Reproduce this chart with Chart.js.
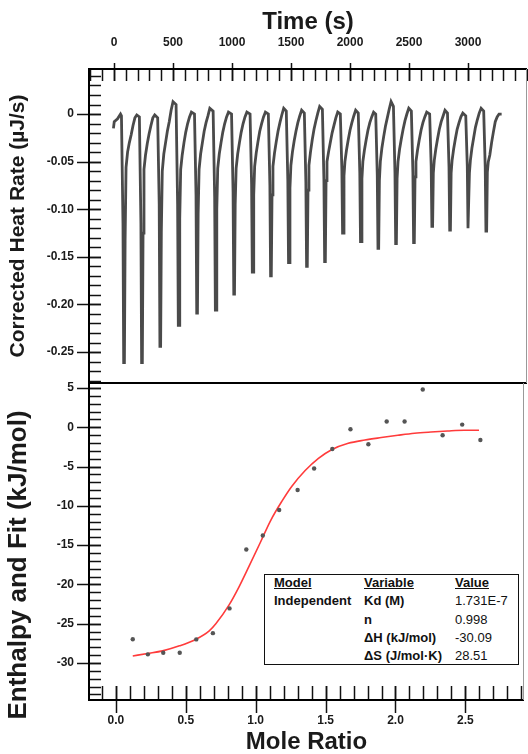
<!DOCTYPE html>
<html>
<head>
<meta charset="utf-8">
<title>ITC</title>
<script src="https://cdn.jsdelivr.net/npm/chart.js@4.4.1/dist/chart.umd.min.js"></script>
<style>
    html, body { margin: 0; padding: 0; background: #fff; }
    #wrap { position: relative; width: 528px; height: 754px; overflow: hidden; }
    #heatChart { position: absolute; left: 0; top: 0; }
    #isoChart { position: absolute; left: 0; top: 373px; }
    #fitTable {
        position: absolute; left: 264px; top: 574px; width: 255px; height: 91px;
        border: 1.5px solid #111; box-sizing: border-box; background: #fff;
        font-family: 'Liberation Sans', Arial, sans-serif; font-size: 13px; color: #111;
    }
    #fitTable span { position: absolute; white-space: nowrap; line-height: 14px; }
    #fitTable .b { font-weight: bold; }
    #fitTable .u { font-weight: bold; text-decoration: underline; }
</style>
</head>
<body>
<div id="wrap">
    <canvas id="heatChart" width="528" height="386"></canvas>
    <canvas id="isoChart" width="528" height="381"></canvas>
    <div id="fitTable">
        <span class="u" style="left:9px; top:1px;">Model</span>
        <span class="u" style="left:99px; top:1px;">Variable</span>
        <span class="u" style="left:190px; top:1px;">Value</span>
        <span class="b" style="left:9px; top:19px;">Independent</span>
        <span class="b" style="left:99px; top:19px;">Kd (M)</span>
        <span style="left:190px; top:19px;">1.731E-7</span>
        <span class="b" style="left:99px; top:38px;">n</span>
        <span style="left:190px; top:38px;">0.998</span>
        <span class="b" style="left:99px; top:56px;">ΔH (kJ/mol)</span>
        <span style="left:190px; top:56px;">-30.09</span>
        <span class="b" style="left:99px; top:74px;">ΔS (J/mol·K)</span>
        <span style="left:190px; top:74px;">28.51</span>
    </div>
</div>
<script>
// Thermogram (top panel), one line per injection
const traceTime = [
    -5, 2, 30, 55,
    63, 76, 82, 88, 94, 102, 115, 130, 145, 161, 177, 193,
    215, 228, 234, 240, 246, 254, 267, 282, 297, 313, 329, 345,
    370, 383, 389, 395, 401, 409, 422, 437, 452, 468, 484, 500,
    526, 539, 545, 551, 557, 565, 578, 593, 608, 624, 640, 656,
    682, 695, 701, 707, 713, 721, 734, 749, 764, 780, 796, 812,
    840, 853, 859, 865, 871, 879, 892, 907, 922, 938, 954, 970,
    996, 1009, 1015, 1021, 1027, 1035, 1048, 1063, 1078, 1094, 1110, 1126,
    1153, 1166, 1172, 1178, 1184, 1192, 1205, 1220, 1235, 1251, 1267, 1283,
    1308, 1321, 1327, 1333, 1339, 1347, 1360, 1375, 1390, 1406, 1422, 1438,
    1460, 1473, 1479, 1485, 1491, 1499, 1512, 1527, 1542, 1558, 1574, 1590,
    1613, 1626, 1632, 1638, 1644, 1652, 1665, 1680, 1695, 1711, 1727, 1743,
    1766, 1779, 1785, 1791, 1797, 1805, 1818, 1833, 1848, 1864, 1880, 1896,
    1918, 1931, 1937, 1943, 1949, 1957, 1970, 1985, 2000, 2016, 2032, 2048,
    2070, 2083, 2089, 2095, 2101, 2109, 2122, 2137, 2152, 2168, 2184, 2200,
    2218, 2231, 2237, 2243, 2249, 2257, 2270, 2285, 2300, 2316, 2332, 2348,
    2368, 2381, 2387, 2393, 2399, 2407, 2420, 2435, 2450, 2466, 2482, 2498,
    2520, 2533, 2539, 2545, 2551, 2559, 2572, 2587, 2602, 2618, 2634, 2650,
    2675, 2688, 2694, 2700, 2706, 2714, 2727, 2742, 2757, 2773, 2789, 2805,
    2826, 2839, 2845, 2851, 2857, 2865, 2878, 2893, 2908, 2924, 2940, 2956,
    2981, 2994, 3000, 3006, 3012, 3020, 3033, 3048, 3063, 3079, 3095, 3111,
    3133, 3146, 3152, 3158, 3164, 3172, 3185, 3200, 3215, 3231, 3247, 3263, 3285
];
const traceRate = [
    -0.015, -0.008, -0.005, 0.000,
    -0.002, -0.115, -0.261, -0.261, -0.133, -0.056, -0.040, -0.030, -0.022, -0.012, -0.004, -0.001,
    -0.003, -0.115, -0.261, -0.261, -0.125, -0.058, -0.043, -0.031, -0.021, -0.012, -0.004, -0.001,
    -0.004, -0.095, -0.244, -0.244, -0.125, -0.060, -0.042, -0.030, -0.018, -0.008, 0.004, 0.013,
    0.010, -0.095, -0.222, -0.222, -0.110, -0.058, -0.043, -0.030, -0.019, -0.010, -0.003, 0.002,
    0.000, -0.085, -0.209, -0.209, -0.105, -0.058, -0.042, -0.030, -0.018, -0.009, -0.002, 0.006,
    0.003, -0.088, -0.206, -0.206, -0.100, -0.057, -0.042, -0.030, -0.019, -0.010, -0.003, 0.002,
    0.000, -0.082, -0.189, -0.189, -0.095, -0.057, -0.042, -0.030, -0.019, -0.010, -0.003, 0.002,
    0.000, -0.074, -0.166, -0.166, -0.085, -0.055, -0.041, -0.029, -0.018, -0.010, -0.003, 0.002,
    0.000, -0.075, -0.170, -0.170, -0.085, -0.055, -0.041, -0.029, -0.018, -0.009, -0.001, 0.006,
    0.003, -0.070, -0.156, -0.156, -0.078, -0.054, -0.040, -0.028, -0.018, -0.009, -0.002, 0.004,
    0.001, -0.072, -0.160, -0.160, -0.080, -0.054, -0.040, -0.027, -0.016, -0.007, 0.001, 0.008,
    0.005, -0.070, -0.155, -0.155, -0.070, -0.050, -0.040, -0.030, -0.020, -0.012, -0.004, 0.002,
    0.000, -0.058, -0.125, -0.125, -0.065, -0.050, -0.038, -0.027, -0.017, -0.009, -0.002, 0.004,
    0.001, -0.062, -0.134, -0.134, -0.068, -0.050, -0.038, -0.027, -0.017, -0.009, -0.003, 0.002,
    0.000, -0.064, -0.141, -0.141, -0.070, -0.050, -0.036, -0.024, -0.013, -0.004, 0.005, 0.013,
    0.008, -0.062, -0.136, -0.136, -0.068, -0.050, -0.037, -0.026, -0.016, -0.007, 0.000, 0.006,
    0.003, -0.062, -0.135, -0.135, -0.066, -0.050, -0.038, -0.027, -0.017, -0.009, -0.003, 0.002,
    0.000, -0.055, -0.118, -0.118, -0.062, -0.049, -0.037, -0.026, -0.016, -0.008, -0.002, 0.004,
    0.001, -0.056, -0.122, -0.122, -0.062, -0.049, -0.037, -0.026, -0.016, -0.009, -0.003, 0.001,
    -0.002, -0.055, -0.120, -0.120, -0.062, -0.049, -0.036, -0.025, -0.014, -0.006, 0.001, 0.006,
    0.003, -0.056, -0.123, -0.123, -0.061, -0.050, -0.043, -0.030, -0.019, -0.008, -0.003, 0.000, 0.000
];

// Integrated heats (bottom panel)
const moleRatio = [0.121, 0.229, 0.339, 0.457, 0.575, 0.694, 0.813, 0.933, 1.051, 1.168, 1.300,
    1.418, 1.548, 1.678, 1.806, 1.937, 2.065, 2.195, 2.337, 2.477, 2.607];
const enthalpy = [-26.97, -28.9, -28.7, -28.7, -27.0, -26.2, -23.05, -15.56, -13.78, -10.52, -7.98,
    -5.25, -2.76, -0.25, -2.16, 0.73, 0.73, 4.80, -1.02, 0.34, -1.62];

// Independent model fit
const fitX = [0.121, 0.227, 0.334, 0.455, 0.573, 0.668, 0.715, 0.810, 0.881, 0.952, 1.035, 1.106, 1.188,
    1.259, 1.354, 1.449, 1.543, 1.662, 1.781, 1.898, 2.017, 2.136, 2.253, 2.372, 2.491, 2.597];
const fitY = [-29.10, -28.79, -28.46, -27.82, -26.97, -25.90, -25.00, -22.60, -20.30, -17.70, -14.60, -11.90, -9.40,
    -7.50, -5.50, -3.95, -2.85, -2.04, -1.62, -1.31, -1.02, -0.76, -0.60, -0.47, -0.38, -0.38];

// Tick labels
const timeTicks = [0, 500, 1000, 1500, 2000, 2500, 3000];
const heatRateTicks = [0, -0.05, -0.10, -0.15, -0.20, -0.25];
const ratioTicks = [0, 0.5, 1.0, 1.5, 2.0, 2.5];
const enthalpyTicks = [5, 0, -5, -10, -15, -20, -25, -30];

Chart.defaults.font.family = "'Liberation Sans', Arial, sans-serif";
Chart.defaults.color = '#1a1a1a';

const tickFont = { size: 12, weight: 'bold' };

// fixed box size, no extra label padding pushed into the layout
function fixBox(prop, size) {
    return s => {
        s[prop] = size;
        s.paddingTop = 0; s.paddingBottom = 0; s.paddingLeft = 0; s.paddingRight = 0;
    };
}

// Frame plus inward minor / outward major ticks, drawn from the chart scales
function frameTicks(axes) {
    return {
        id: 'frameTicks',
        afterDatasetsDraw(chart) {
            const ctx = chart.ctx;
            const a = chart.chartArea;
            ctx.save();
            ctx.strokeStyle = '#111';
            ctx.lineWidth = 1.5;
            axes.forEach(ax => {
                const scale = chart.scales[ax.id];
                const horiz = scale.isHorizontal();
                const edge = ax.side === 'top' ? a.top : ax.side === 'bottom' ? a.bottom : a.left;
                const dir = (ax.side === 'bottom') ? -1 : 1;
                const tick = (v, inLen, outLen) => {
                    const p = Math.round(scale.getPixelForValue(v)) + 0.5;
                    ctx.beginPath();
                    if (horiz) {
                        ctx.moveTo(p, edge - outLen * dir);
                        ctx.lineTo(p, edge + inLen * dir);
                    } else {
                        ctx.moveTo(edge - outLen * dir, p);
                        ctx.lineTo(edge + inLen * dir, p);
                    }
                    ctx.stroke();
                };
                const k0 = Math.ceil(scale.min / ax.minorStep - 1e-6);
                const k1 = Math.floor(scale.max / ax.minorStep + 1e-6);
                for (let k = k0; k <= k1; k++) {
                    tick(k * ax.minorStep, ax.inLen, 0);
                }
                ax.major.forEach(v => tick(v, ax.inLen, ax.outLen));
            });
            // frame
            ctx.lineWidth = 2;
            ctx.strokeStyle = '#000';
            ctx.beginPath();
            ctx.moveTo(a.right, a.top);
            ctx.lineTo(a.left, a.top);
            ctx.lineTo(a.left, a.bottom);
            ctx.lineTo(a.right, a.bottom);
            ctx.stroke();
            ctx.lineWidth = 1;
            ctx.strokeStyle = '#999';
            ctx.beginPath();
            ctx.moveTo(a.right - 0.5, a.top);
            ctx.lineTo(a.right - 0.5, a.bottom);
            ctx.stroke();
            ctx.restore();
        }
    };
}

// rotated axis title placed by hand (it is not centred on its panel)
function sideTitle(text, x, y, font) {
    return {
        id: 'sideTitle',
        afterDraw(chart) {
            const ctx = chart.ctx;
            ctx.save();
            ctx.translate(x, y);
            ctx.rotate(-Math.PI / 2);
            ctx.font = font;
            ctx.fillStyle = '#1a1a1a';
            ctx.textAlign = 'center';
            ctx.textBaseline = 'middle';
            ctx.fillText(text, 0, 0);
            ctx.restore();
        }
    };
}

// Corrected heat rate chart
new Chart(document.getElementById('heatChart').getContext('2d'), {
    type: 'line',
    data: {
        datasets: [{
            data: traceTime.map((t, i) => ({ x: t, y: traceRate[i] })),
            borderColor: '#4a4a4a',
            borderWidth: 2.8,
            pointRadius: 0,
            tension: 0,
            fill: false
        }]
    },
    options: {
        responsive: false,
        animation: false,
        events: [],
        layout: { padding: { left: 0, right: 1, top: 0, bottom: 3 } },
        plugins: { legend: { display: false }, tooltip: { enabled: false } },
        scales: {
            x: {
                type: 'linear',
                position: 'top',
                min: -212,
                max: 3500,
                grid: { display: false, drawTicks: false },
                border: { display: false },
                afterBuildTicks: s => { s.ticks = timeTicks.map(v => ({ value: v })); },
                afterFit: fixBox('height', 69),
                ticks: { font: tickFont, padding: 19, maxRotation: 0, callback: v => String(v) },
                title: {
                    display: true,
                    text: 'Time (s)',
                    font: { size: 24, weight: 'bold', lineHeight: 1 },
                    padding: { top: 10, bottom: 0 }
                }
            },
            y: {
                type: 'linear',
                min: -0.2825,
                max: 0.0473,
                grid: { display: false, drawTicks: false },
                border: { display: false },
                afterBuildTicks: s => { s.ticks = heatRateTicks.map(v => ({ value: v })); },
                afterFit: fixBox('width', 89),
                ticks: { font: tickFont, padding: 15, callback: v => v === 0 ? '0' : v.toFixed(2) },
                title: {
                    display: true,
                    text: 'Corrected Heat Rate (µJ/s)',
                    font: { size: 21, weight: 'bold', lineHeight: 1 },
                    padding: { top: 8, bottom: 0 }
                }
            }
        }
    },
    plugins: [frameTicks([
        { id: 'x', side: 'top', major: timeTicks, minorStep: 100, inLen: 12, outLen: 6 },
        { id: 'y', side: 'left', major: heatRateTicks, minorStep: 0.01, inLen: 12, outLen: 12 }
    ])]
});

// Enthalpy and fit chart
new Chart(document.getElementById('isoChart').getContext('2d'), {
    type: 'scatter',
    data: {
        datasets: [{
            type: 'scatter',
            data: moleRatio.map((x, i) => ({ x: x, y: enthalpy[i] })),
            backgroundColor: '#555',
            borderWidth: 0,
            pointRadius: 2.2
        }, {
            type: 'line',
            data: fitX.map((x, i) => ({ x: x, y: fitY[i] })),
            borderColor: '#ff3b3b',
            borderWidth: 1.6,
            pointRadius: 0,
            cubicInterpolationMode: 'monotone',
            fill: false
        }]
    },
    options: {
        responsive: false,
        animation: false,
        events: [],
        layout: { padding: { left: 0, right: 1, top: 10, bottom: 0 } },
        plugins: { legend: { display: false }, tooltip: { enabled: false } },
        scales: {
            x: {
                type: 'linear',
                position: 'bottom',
                min: -0.192,
                max: 2.919,
                grid: { display: false, drawTicks: false },
                border: { display: false },
                afterBuildTicks: s => { s.ticks = ratioTicks.map(v => ({ value: v })); },
                afterFit: fixBox('height', 54),
                ticks: { font: tickFont, padding: 13, maxRotation: 0, callback: v => v.toFixed(1) },
                title: {
                    display: true,
                    text: 'Mole Ratio',
                    font: { size: 24, weight: 'bold', lineHeight: 1 },
                    padding: { top: 0, bottom: 0 }
                }
            },
            y: {
                type: 'linear',
                min: -34.71,
                max: 5.636,
                grid: { display: false, drawTicks: false },
                border: { display: false },
                afterBuildTicks: s => { s.ticks = enthalpyTicks.map(v => ({ value: v })); },
                afterFit: fixBox('width', 89),
                ticks: { font: tickFont, padding: 15, callback: v => String(v) }
            }
        }
    },
    plugins: [
        frameTicks([
            { id: 'x', side: 'bottom', major: ratioTicks, minorStep: 0.1, inLen: 14, outLen: 13 },
            { id: 'y', side: 'left', major: enthalpyTicks, minorStep: 1, inLen: 12, outLen: 12 }
        ]),
        sideTitle('Enthalpy and Fit (kJ/mol)', 19, 192, "bold 26px 'Liberation Sans', Arial, sans-serif")
    ]
});
</script>
</body>
</html>
